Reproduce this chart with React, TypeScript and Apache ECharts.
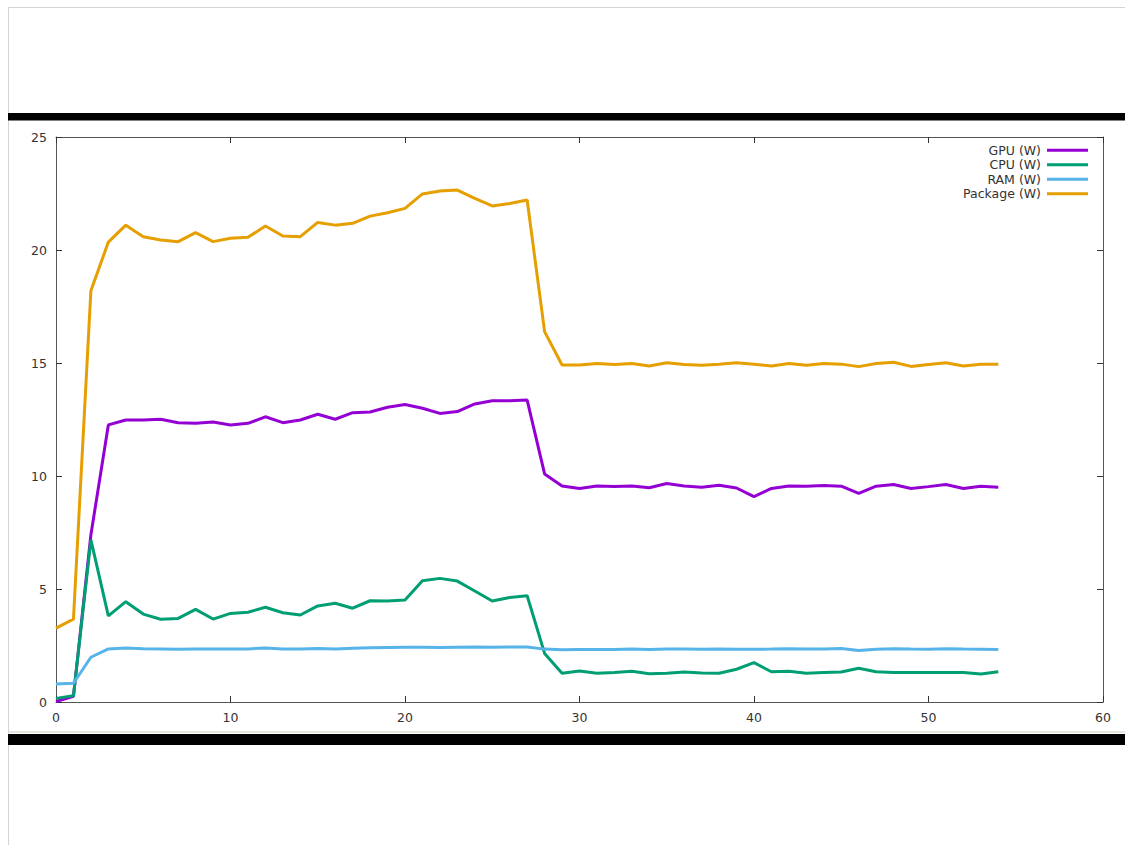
import React, { useEffect, useRef } from "react";
import * as echarts from "echarts";

const seconds = [0,1,2,3,4,5,6,7,8,9,10,11,12,13,14,15,16,17,18,19,20,21,22,23,24,25,26,27,28,29,30,31,32,33,34,35,36,37,38,39,40,41,42,43,44,45,46,47,48,49,50,51,52,53,54];
const gpuW = [0.02,0.25,7.4,12.26,12.48,12.48,12.51,12.36,12.33,12.39,12.26,12.33,12.62,12.36,12.48,12.73,12.51,12.8,12.83,13.04,13.16,13.0,12.77,12.85,13.19,13.33,13.33,13.36,10.09,9.56,9.45,9.56,9.53,9.56,9.48,9.67,9.56,9.5,9.59,9.47,9.09,9.45,9.56,9.55,9.58,9.55,9.23,9.55,9.62,9.45,9.53,9.62,9.45,9.55,9.5];
const cpuW = [0.16,0.28,7.17,3.81,4.44,3.89,3.66,3.7,4.1,3.67,3.92,3.97,4.19,3.95,3.85,4.25,4.37,4.15,4.48,4.47,4.51,5.37,5.47,5.35,4.91,4.47,4.62,4.7,2.15,1.27,1.37,1.27,1.31,1.36,1.25,1.27,1.33,1.28,1.27,1.45,1.74,1.34,1.36,1.27,1.3,1.33,1.49,1.34,1.31,1.31,1.31,1.31,1.3,1.24,1.34];
const ramW = [0.8,0.83,1.98,2.35,2.39,2.36,2.35,2.33,2.34,2.34,2.34,2.35,2.39,2.35,2.35,2.37,2.35,2.38,2.4,2.41,2.42,2.42,2.41,2.42,2.43,2.42,2.43,2.43,2.34,2.31,2.32,2.32,2.32,2.35,2.32,2.34,2.35,2.33,2.34,2.33,2.33,2.34,2.36,2.34,2.35,2.37,2.28,2.33,2.36,2.34,2.33,2.36,2.34,2.33,2.32];
const packageW = [3.27,3.67,18.2,20.35,21.1,20.59,20.44,20.37,20.77,20.37,20.52,20.56,21.06,20.62,20.59,21.22,21.1,21.18,21.5,21.65,21.84,22.48,22.61,22.65,22.28,21.95,22.06,22.21,16.39,14.91,14.91,14.98,14.93,14.98,14.87,15.01,14.93,14.9,14.95,15.01,14.94,14.87,14.98,14.9,14.98,14.95,14.84,14.98,15.03,14.85,14.93,15.01,14.87,14.94,14.94];

const seriesNames = ["GPU (W)", "CPU (W)", "RAM (W)", "Package (W)"];
const seriesColors = ["#9400d3", "#009e73", "#56b4e9", "#e69f00"];
const seriesValues = [gpuW, cpuW, ramW, packageW];

const FONT = "DejaVu Sans";

export default function App() {
  const ref = useRef<HTMLDivElement>(null);
  useEffect(() => {
    if (!ref.current) return;
    const chart = echarts.init(ref.current, null, { renderer: "svg" });
    const axisLine = { show: true, onZero: false, lineStyle: { color: "#555", width: 1 } };
    const tickIn = { show: true, inside: true, length: 6, lineStyle: { color: "#333" } };
    chart.setOption({
      animation: false,
      backgroundColor: "#ffffff",
      textStyle: { fontFamily: FONT },
      grid: { left: 56, top: 137, right: 22, bottom: 143, containLabel: false },
      legend: {
        data: seriesNames,
        orient: "vertical",
        right: 32,
        top: 138,
        align: "right",
        icon: "rect",
        itemWidth: 41,
        itemHeight: 3,
        itemGap: 0,
        textStyle: { fontFamily: FONT, fontSize: 12.5, color: "#333", lineHeight: 14.5, padding: [0, 1, 0, 0] },
      },
      xAxis: [
        {
          type: "value", min: 0, max: 60, interval: 10, position: "bottom",
          axisLine, axisTick: tickIn, splitLine: { show: false },
          axisLabel: { margin: 9, fontFamily: FONT, fontSize: 12.5, color: "#333" },
        },
        {
          type: "value", min: 0, max: 60, interval: 10, position: "top",
          axisLine, axisTick: tickIn, splitLine: { show: false }, axisLabel: { show: false },
        },
      ],
      yAxis: [
        {
          type: "value", min: 0, max: 25, interval: 5, position: "left",
          axisLine, axisTick: tickIn, splitLine: { show: false },
          axisLabel: { margin: 9, fontFamily: FONT, fontSize: 12.5, color: "#333" },
        },
        {
          type: "value", min: 0, max: 25, interval: 5, position: "right",
          axisLine, axisTick: tickIn, splitLine: { show: false }, axisLabel: { show: false },
        },
      ],
      series: seriesNames.map((name, k) => ({
        name,
        type: "line",
        xAxisIndex: 0,
        yAxisIndex: 0,
        symbol: "none",
        color: seriesColors[k],
        lineStyle: { width: 3, color: seriesColors[k] },
        data: seconds.map((s, i) => [s, seriesValues[k][i]]),
      })),
      graphic: [
        { type: "line", shape: { x1: 8, y1: 7.5, x2: 1125, y2: 7.5 }, style: { stroke: "#d4d4d4", lineWidth: 1 } },
        { type: "line", shape: { x1: 8.5, y1: 7, x2: 8.5, y2: 845 }, style: { stroke: "#d4d4d4", lineWidth: 1 } },
        { type: "line", shape: { x1: 8, y1: 732, x2: 1125, y2: 732 }, style: { stroke: "#deded6", lineWidth: 1.5 } },
        { type: "rect", shape: { x: 8, y: 113, width: 1117, height: 7.5 }, style: { fill: "#000" } },
        { type: "rect", shape: { x: 8, y: 734, width: 1117, height: 11 }, style: { fill: "#000" } },
      ],
    });
    return () => chart.dispose();
  }, []);
  return (
    <div
      ref={ref}
      style={{ position: "fixed", left: 0, top: 0, width: 1125, height: 845, background: "#fff" }}
    />
  );
}
